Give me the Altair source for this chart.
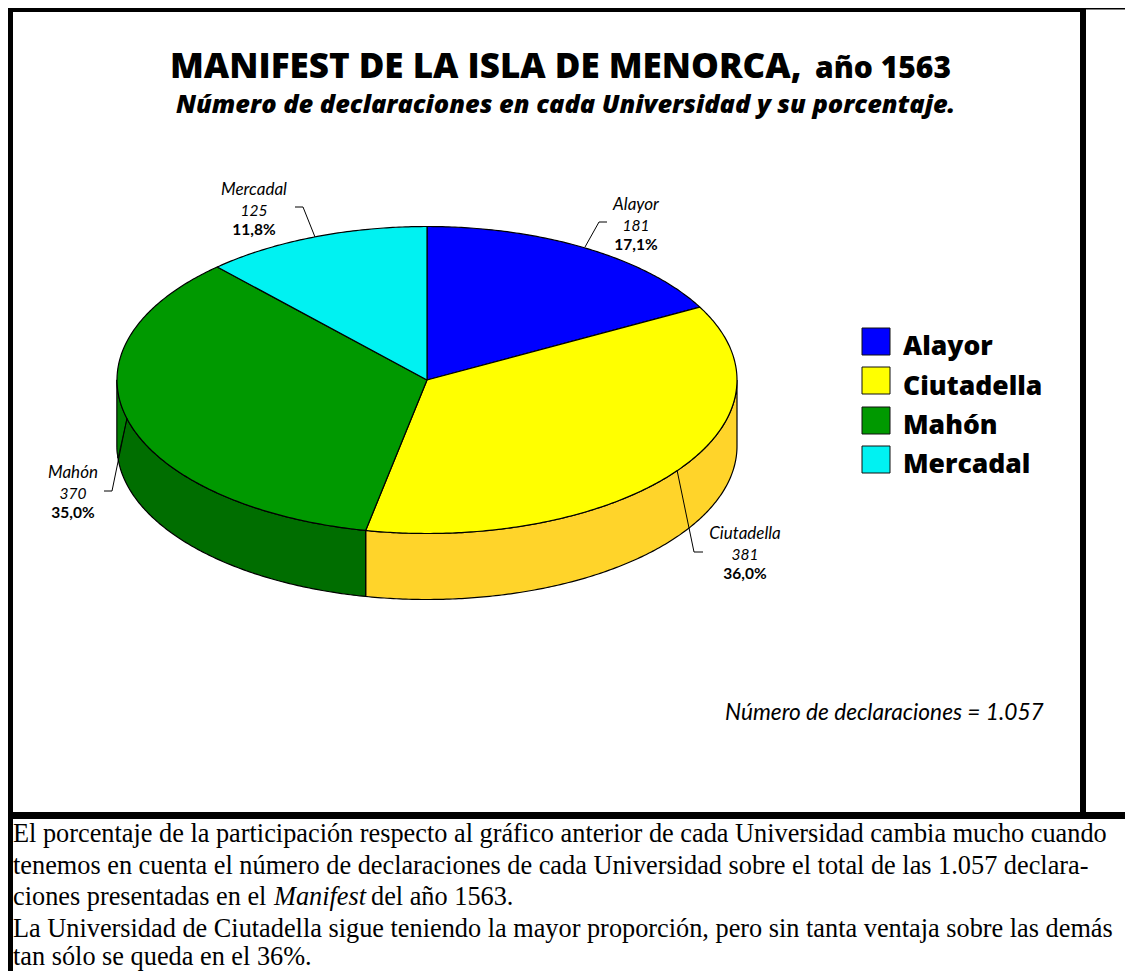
import math
import altair as alt
import pandas as pd

CATEGORIES = ["Alayor", "Ciutadella", "Mahón", "Mercadal"]
VALUES = [181, 381, 370, 125]
PERCENTS = ["17,1%", "36,0%", "35,0%", "11,8%"]
TOP_COLORS = ["#0000FF", "#FFFF00", "#009900", "#00F2F2"]
WALL_COLORS = [None, "#FFD42A", "#006E00", None]
WALL_LIGHT = "#008000"

TITLE_A = "MANIFEST DE LA ISLA DE MENORCA,"
TITLE_B = "año 1563"
SUBTITLE = "Número de declaraciones en cada Universidad y su porcentaje."
TOTAL_NOTE = "Número de declaraciones = 1.057"

LABEL_X = [636, 745, 73, 254]
LABEL_Y = [210, 539, 478, 195]
LABEL_STEP = [21, 19]

LEADERS = [
    [(585, 247), (599, 222), (607, 222)],
    [(677, 470), (694, 552), (703, 552)],
    [(127, 418), (112, 491), (104, 491)],
    [(315, 237), (303, 207), (295, 207)],
]

SWATCH_X = (862, 890)
SWATCH_Y = [328, 367, 407, 446]
LEGEND_Y = [355, 395, 434, 473]

BODY_LINES = [
    (13, 842, "El porcentaje de la participación respecto al gráfico anterior de cada Universidad cambia mucho cuando", "normal"),
    (13, 874, "tenemos en cuenta el número de declaraciones de cada Universidad sobre el total de las 1.057 declara-", "normal"),
    (13, 905, "ciones presentadas en el", "normal"),
    (274, 905, "Manifest", "italic"),
    (371, 905, "del año 1563.", "normal"),
    (13, 937, "La Universidad de Ciutadella sigue teniendo la mayor proporción, pero sin tanta ventaja sobre las demás", "normal"),
    (13, 965, "tan sólo se queda en el 36%.", "normal"),
]

CX, CY, RX, RY, DEPTH = 427, 380, 310, 153.5, 66
W, H = 1117, 963
X = alt.X("x:Q", scale=alt.Scale(domain=[8, 8 + W], range=[0, W]), axis=None)
Y = alt.Y("y:Q", scale=alt.Scale(domain=[8, 8 + H], range=[0, H]), axis=None)
HEAD = "Open Sans"
LABEL = "Lato"
BODY = "Liberation Serif"


def pt(theta, dy=0):
    return CX + RX * math.sin(theta), CY - RY * math.cos(theta) + dy


def poly(points, fill, stroke="black", sw=1.2):
    df = pd.DataFrame([{"x": p[0], "y": p[1], "o": i} for i, p in enumerate(points)])
    return alt.Chart(df).mark_line(filled=True, fill=fill, stroke=stroke, strokeWidth=sw,
                                   strokeJoin="round", clip=False).encode(x=X, y=Y, order="o:Q")


def line(points, sw=1.0):
    df = pd.DataFrame([{"x": p[0], "y": p[1], "o": i} for i, p in enumerate(points)])
    return alt.Chart(df).mark_line(color="black", strokeWidth=sw, clip=False).encode(x=X, y=Y, order="o:Q")


def rect(x0, x1, y0, y1, fill="black", stroke=None):
    df = pd.DataFrame([{"x": x0, "x2": x1, "y": y0, "y2": y1}])
    kw = {"stroke": stroke, "strokeWidth": 1} if stroke else {}
    return alt.Chart(df).mark_rect(color=fill, **kw).encode(x=X, x2="x2:Q", y=Y, y2="y2:Q")


def text(x, y, s, size, weight="normal", style="normal", align="left", font=HEAD):
    df = pd.DataFrame([{"x": x, "y": y, "t": s}])
    return alt.Chart(df).mark_text(font=font, fontSize=size, fontWeight=weight, fontStyle=style,
                                   align=align, baseline="alphabetic", color="black",
                                   clip=False).encode(x=X, y=Y, text="t:N")


layers = []

# frame
layers += [
    rect(8, 1086, 8, 12),
    rect(8, 13, 8, 971),
    rect(1080, 1086, 8, 815),
    rect(8, 1125, 812, 819),
    rect(1086, 1125, 8, 9.5),
]

# slices
total = sum(VALUES)
edges = [0.0]
for v in VALUES:
    edges.append(edges[-1] + v / total * 2 * math.pi)


def arc(a, b, dy=0):
    n = max(2, int(abs(b - a) / 0.01))
    return [pt(a + (b - a) * i / n, dy) for i in range(n + 1)]


# side walls (only the front half of the disc is visible)
for i, color in enumerate(WALL_COLORS):
    if color is None:
        continue
    a = max(edges[i], math.pi / 2)
    b = min(edges[i + 1], 3 * math.pi / 2)
    top = arc(a, b)
    bottom = arc(a, b, DEPTH)
    layers.append(poly(top + bottom[::-1] + [top[0]], color))

# lighter band at the far left of the Mahón wall
band_top = arc(math.radians(255.4), 3 * math.pi / 2)
band_bot = arc(3 * math.pi / 2, math.radians(265.5), DEPTH)
layers.append(poly(band_top + band_bot + [band_top[0]], WALL_LIGHT, sw=0.8))

# top face
for i, color in enumerate(TOP_COLORS):
    pts = [(CX, CY)] + arc(edges[i], edges[i + 1]) + [(CX, CY)]
    layers.append(poly(pts, color))

# leaders and labels
for i, cat in enumerate(CATEGORIES):
    layers.append(line(LEADERS[i]))
    layers.append(text(LABEL_X[i], LABEL_Y[i], cat, 17, style="italic", align="center", font=LABEL))
    layers.append(text(LABEL_X[i], LABEL_Y[i] + LABEL_STEP[0], str(VALUES[i]), 15.5, style="italic", align="center", font=LABEL))
    layers.append(text(LABEL_X[i], LABEL_Y[i] + LABEL_STEP[0] + LABEL_STEP[1], PERCENTS[i], 15.5, weight="bold", align="center", font=LABEL))

# legend
for i, cat in enumerate(CATEGORIES):
    layers.append(rect(SWATCH_X[0], SWATCH_X[1], SWATCH_Y[i], SWATCH_Y[i] + 27, TOP_COLORS[i], "#111111"))
    layers.append(text(903, LEGEND_Y[i], cat, 26.5, weight=800))

# titles
layers.append(text(170, 78, TITLE_A, 35, weight=800))
layers.append(text(815, 78, TITLE_B, 30, weight=800))
layers.append(text(176, 113, SUBTITLE, 25.4, weight=800, style="italic"))
layers.append(text(725, 720, TOTAL_NOTE, 22.7, style="italic", font=LABEL))

# body
for x, y, s, st in BODY_LINES:
    layers.append(text(x, y, s, 26.3, style=st, font=BODY))

chart = alt.layer(*layers).properties(
    width=W, height=H, padding=0, autosize=alt.AutoSizeParams(type="none"), background="white"
).configure_view(stroke=None)

chart.save("out.html", embed_options={"renderer": "svg", "actions": False})
